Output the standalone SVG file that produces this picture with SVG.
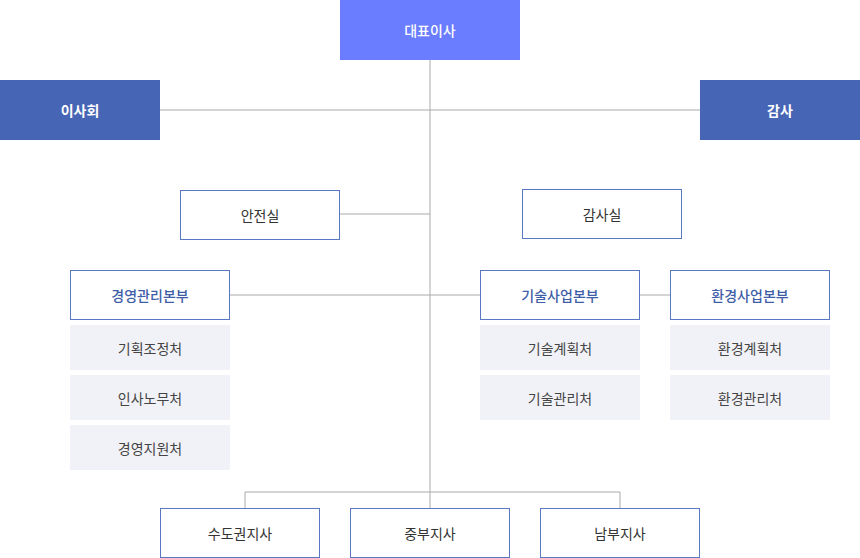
<svg xmlns="http://www.w3.org/2000/svg" width="860" height="558" viewBox="0 0 860 558">
<style>
text{font-family:"Noto Sans CJK KR","Noto Sans",sans-serif;font-size:14px;text-anchor:middle;dominant-baseline:central}
.top rect{fill:#6a7cff}.top text{fill:#fff;font-weight:500}
.dark rect{fill:#4665b5}.dark text{fill:#fff;font-weight:bold}
.hd rect{fill:#fff;stroke:#5a77c3;stroke-width:1}.hd text{fill:#3f5ea8;font-weight:500}
.pl rect{fill:#fff;stroke:#5a77c3;stroke-width:1}.pl text{fill:#333}
.sub rect{fill:#f1f2f7}.sub text{fill:#444}
.bt rect{fill:#fff;stroke:#5a77c3;stroke-width:1}.bt text{fill:#333}
#connectors line{stroke:#aaa;stroke-width:1}
</style>
<g id="connectors">
<line x1="430" y1="60" x2="430" y2="492"/>
<line x1="160" y1="110" x2="700" y2="110"/>
<line x1="340" y1="214" x2="430" y2="214"/>
<line x1="230" y1="295" x2="480" y2="295"/>
<line x1="640" y1="295" x2="670" y2="295"/>
<line x1="245" y1="492" x2="620" y2="492"/>
<line x1="245" y1="492" x2="245" y2="508"/>
<line x1="620" y1="492" x2="620" y2="508"/>
<line x1="430" y1="492" x2="430" y2="508"/>
</g>
<g id="ceo" class="top"><rect x="340" y="0" width="180" height="60"/><text x="430" y="30">대표이사</text></g>
<g id="board" class="dark"><rect x="0" y="80" width="160" height="60"/><text x="80" y="110">이사회</text></g>
<g id="audit" class="dark"><rect x="700" y="80" width="160" height="60"/><text x="780" y="110">감사</text></g>
<g id="safety" class="pl"><rect x="180.5" y="190.5" width="159" height="49"/><text x="260" y="215">안전실</text></g>
<g id="auditoffice" class="pl"><rect x="522.5" y="189.5" width="159" height="49"/><text x="602" y="214">감사실</text></g>
<g id="mgmt" class="hd"><rect x="70.5" y="270.5" width="159" height="49"/><text x="150" y="295">경영관리본부</text></g>
<g id="tech" class="hd"><rect x="480.5" y="270.5" width="159" height="49"/><text x="560" y="295">기술사업본부</text></g>
<g id="env" class="hd"><rect x="670.5" y="270.5" width="159" height="49"/><text x="750" y="295">환경사업본부</text></g>
<g id="m1" class="sub"><rect x="70" y="325" width="160" height="45"/><text x="150" y="347.5">기획조정처</text></g>
<g id="m2" class="sub"><rect x="70" y="375" width="160" height="45"/><text x="150" y="397.5">인사노무처</text></g>
<g id="m3" class="sub"><rect x="70" y="425" width="160" height="45"/><text x="150" y="447.5">경영지원처</text></g>
<g id="t1" class="sub"><rect x="480" y="325" width="160" height="45"/><text x="560" y="347.5">기술계획처</text></g>
<g id="t2" class="sub"><rect x="480" y="375" width="160" height="45"/><text x="560" y="397.5">기술관리처</text></g>
<g id="e1" class="sub"><rect x="670" y="325" width="160" height="45"/><text x="750" y="347.5">환경계획처</text></g>
<g id="e2" class="sub"><rect x="670" y="375" width="160" height="45"/><text x="750" y="397.5">환경관리처</text></g>
<g id="b1" class="bt"><rect x="160.5" y="508.5" width="159" height="49"/><text x="240" y="533">수도권지사</text></g>
<g id="b2" class="bt"><rect x="350.5" y="508.5" width="159" height="49"/><text x="430" y="533">중부지사</text></g>
<g id="b3" class="bt"><rect x="540.5" y="508.5" width="159" height="49"/><text x="620" y="533">남부지사</text></g>
</svg>
